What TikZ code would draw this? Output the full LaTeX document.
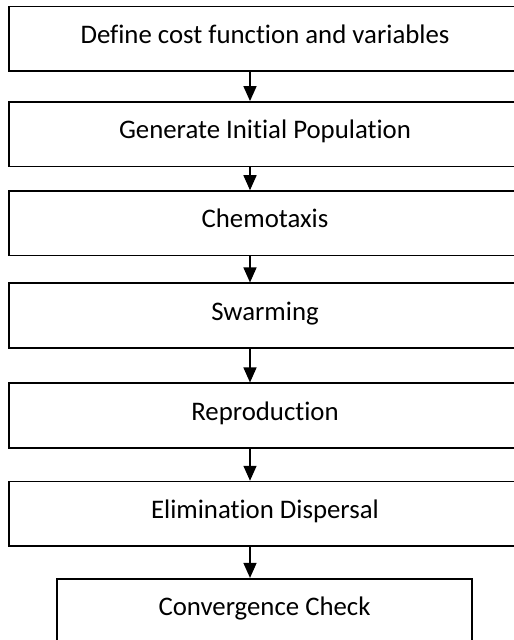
\documentclass[tikz,border=0pt]{standalone}
\usepackage{fontspec}
\setmainfont{Carlito}[Ligatures=NoCommon]
\usetikzlibrary{arrows.meta}

\newcommand*{\boxw}{511.4}
\newcommand*{\boxh}{64.5}
\newcommand*{\flowx}{250}

\begin{document}
\begin{tikzpicture}
[
	x=0.5pt, y=-0.5pt,
	stepbox/.style={draw, rectangle, line width=0.85pt, inner sep=0pt,
		minimum width=\boxw*0.5pt, minimum height=\boxh*0.5pt,
		text height=0.7em, text depth=0.25em,
		font=\fontsize{13.4}{16}\selectfont},
	flow/.style={-{Triangle[length=7.5pt,width=6.5pt]}, line width=0.75pt}
]

	\useasboundingbox (0,0) rectangle (513,640);

	% boxes
	\node[stepbox] (cost) at (265,38.85) {Define cost function and variables};
	\node[stepbox] (init) at (265,134.2) {Generate Initial Population};
	\node[stepbox] (chemo) at (265,223.35) {Chemotaxis};
	\node[stepbox] (swarm) at (265,315.55) {Swarming};
	\node[stepbox] (repro) at (265,415.55) {Reproduction};
	\node[stepbox] (elim) at (265,513.85) {Elimination Dispersal};
	\node[stepbox, minimum width=207.2pt] (conv) at (264.5,611) {Convergence Check};

	% arrows
	\coordinate (fx) at (\flowx,0);
	\draw[flow] (cost.south -| fx) -- (init.north -| fx);
	\draw[flow] (init.south -| fx) -- (chemo.north -| fx);
	\draw[flow] (chemo.south -| fx) -- (swarm.north -| fx);
	\draw[flow] (swarm.south -| fx) -- (repro.north -| fx);
	\draw[flow] (repro.south -| fx) -- (elim.north -| fx);
	\draw[flow] (elim.south -| fx) -- (conv.north -| fx);

\end{tikzpicture}
\end{document}
